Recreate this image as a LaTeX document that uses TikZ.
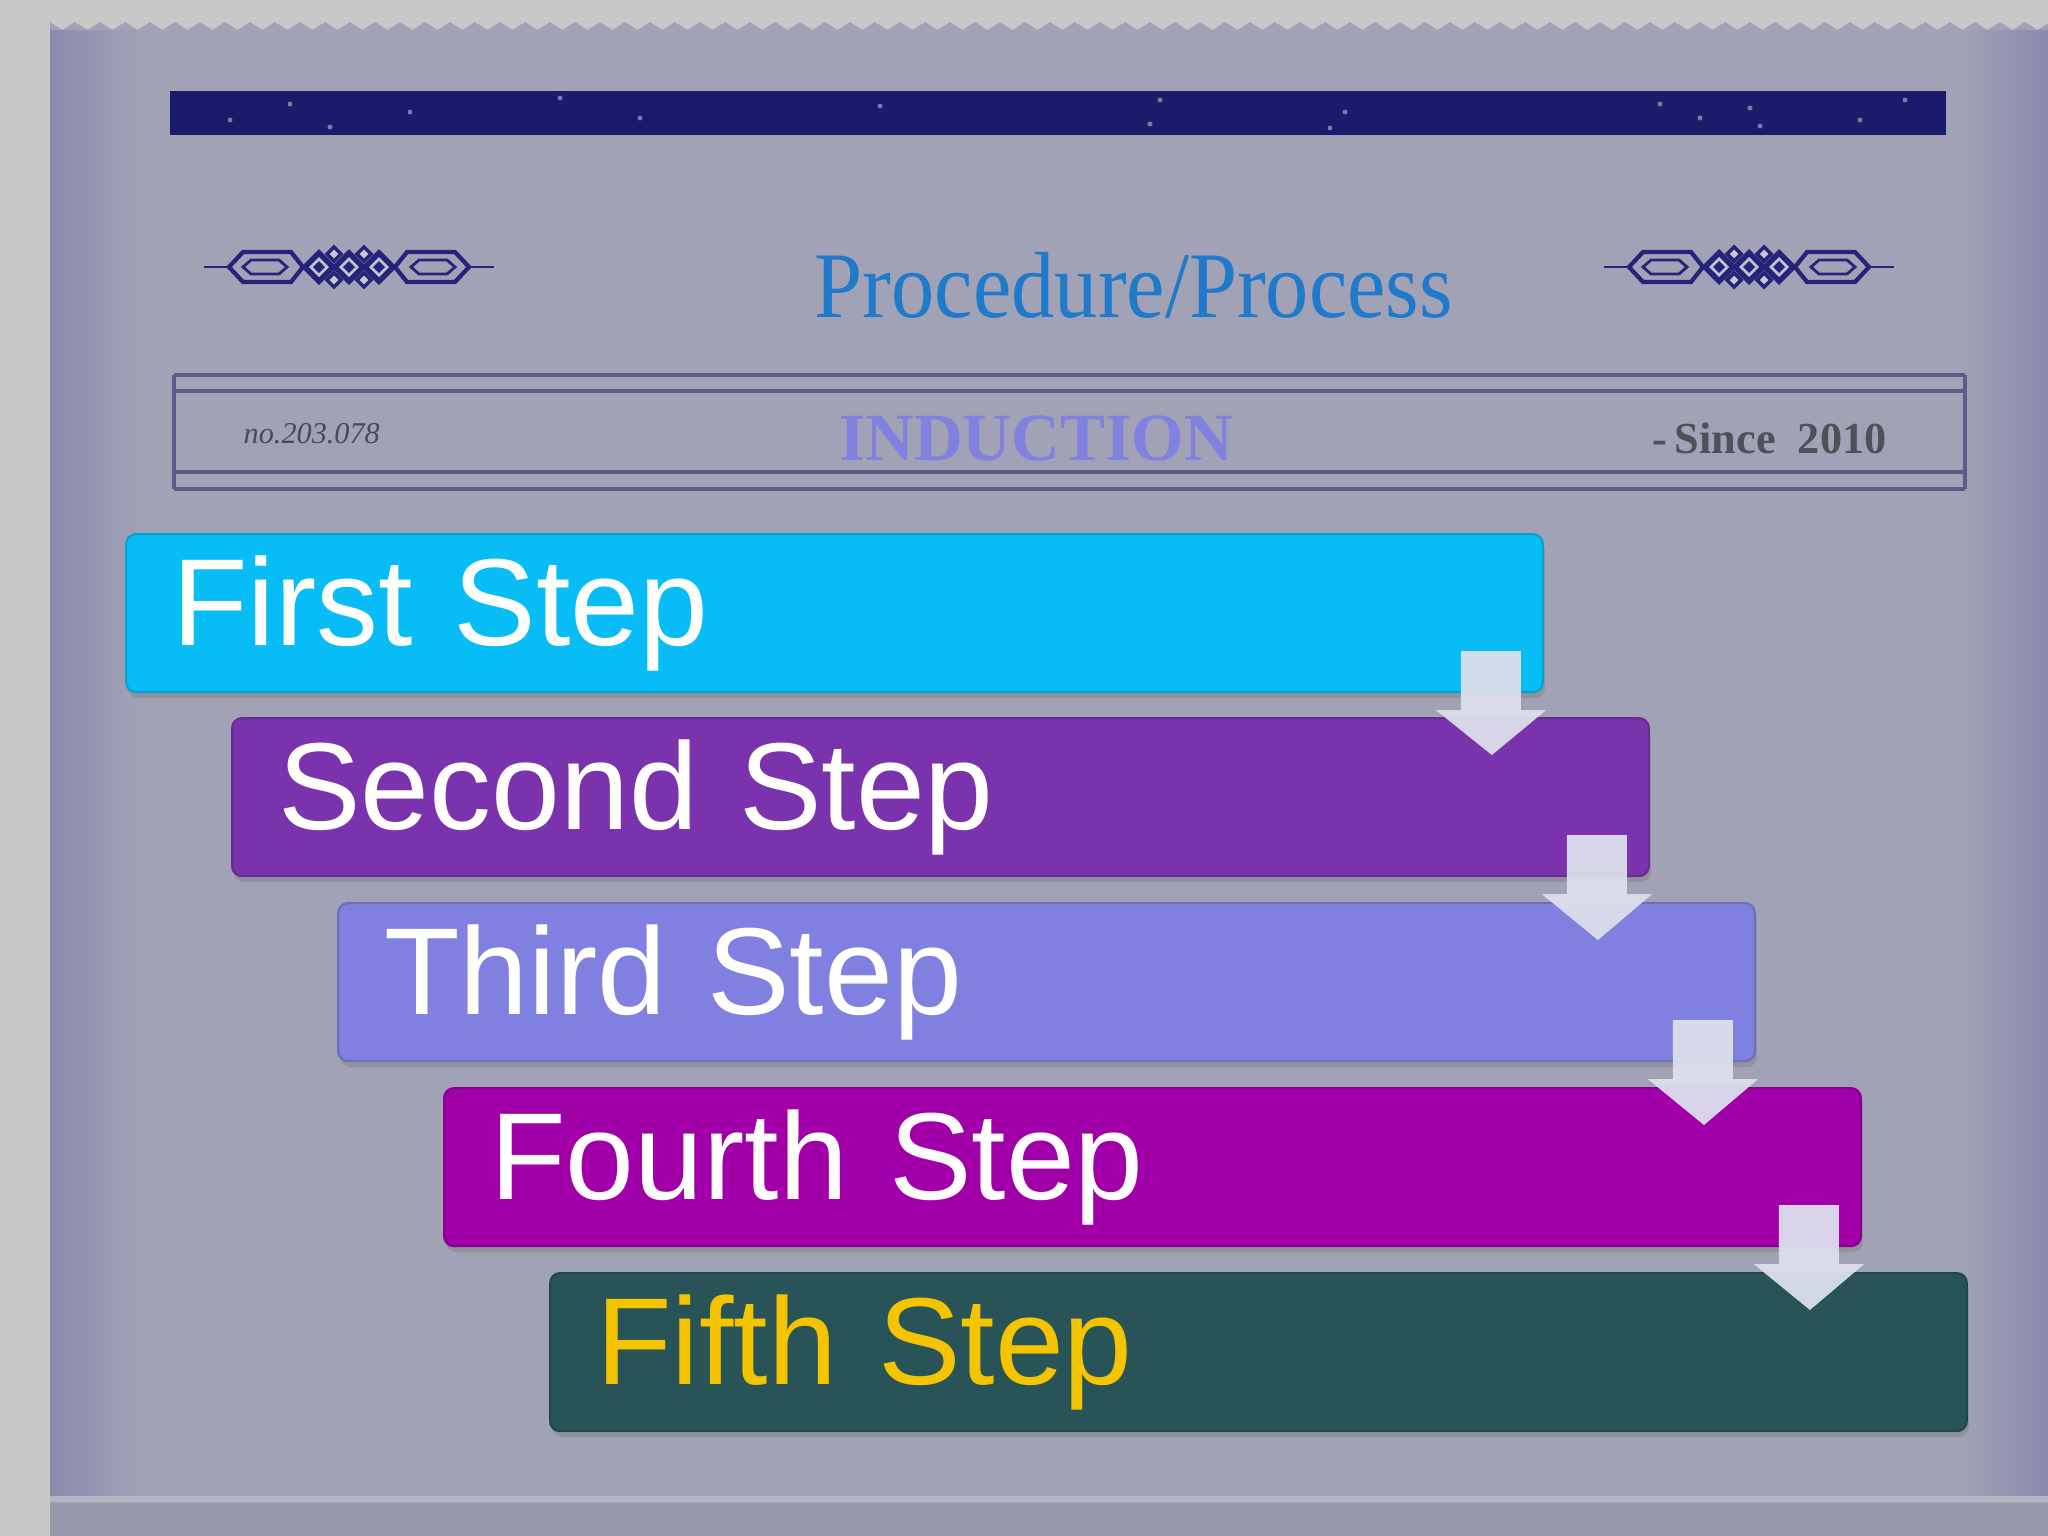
\documentclass[tikz,border=0pt]{standalone}
\usepackage{fontspec}
\setmainfont{Liberation Serif}
\newfontfamily\stepfont{Liberation Sans}
\newfontfamily\titlefont[FakeStretch=0.92]{Liberation Serif}
\usetikzlibrary{calc,shadows}

\definecolor{backgray}{HTML}{C8C8C8}
\definecolor{paper}{HTML}{A2A2B6}
\definecolor{grunge}{HTML}{8A8AAE}
\definecolor{navyband}{HTML}{1B1B6B}
\definecolor{ornblue}{HTML}{25237A}
\definecolor{titleblue}{HTML}{1F7ACB}
\definecolor{frameline}{HTML}{5C5C8C}
\definecolor{indblue}{HTML}{8181E0}
\definecolor{sincegray}{HTML}{505058}
\definecolor{nogray}{HTML}{484860}
\definecolor{stepone}{HTML}{08BCF5}
\definecolor{steptwo}{HTML}{7A33AC}
\definecolor{stepthree}{HTML}{8080E0}
\definecolor{stepfour}{HTML}{A100A8}
\definecolor{stepfive}{HTML}{285458}
\definecolor{fifthtext}{HTML}{F5C400}
\definecolor{arrowfill}{HTML}{DCDFEC}

\tikzset{
  stepbox/.style={fill=#1, draw=#1!85!black, line width=0.6pt, rounded corners=0.1cm,
    minimum width=14.16cm, minimum height=1.58cm, anchor=north west,
    text width=13.24cm, inner xsep=0.46cm, align=left, text=white,
    font=\stepfont\fontsize{35.2}{40}\selectfont,
    drop shadow={shadow xshift=0.02cm, shadow yshift=-0.06cm, opacity=0.45}},
  arrowbody/.style={fill=arrowfill, opacity=0.95},
  frame/.style={draw=frameline, line width=0.9pt},
  headtext/.style={inner sep=0pt},
}

% freccia tra due passi
\newcommand{\steparrow}[2]{%
  \fill[arrowbody] ($(#1.south east)+(-83,-42)$) -- ($(#1.south east)+(-23,-42)$)
    -- ($(#1.south east)+(-23,17)$) -- ($(#1.south east)+(2,17)$)
    -- ($(#2.north east)+(-158,38)$) -- ($(#1.south east)+(-108,17)$)
    -- ($(#1.south east)+(-83,17)$) -- cycle;}

% ornamento del titolo
\newcommand{\ornament}[1]{%
  \begin{scope}[shift={#1}]
    \draw[ornblue, line width=0.8pt] (-145,0) -- (-118,0) (118,0) -- (145,0);
    \foreach \s in {-1,1} {
      \draw[ornblue, line width=1.2pt] ({\s*46},0) -- ({\s*58},-15) -- ({\s*106},-15) -- ({\s*120},0) -- ({\s*106},15) -- ({\s*58},15) -- cycle;
      \draw[ornblue, line width=0.8pt] ({\s*62},0) -- ({\s*70},-7) -- ({\s*98},-7) -- ({\s*106},0) -- ({\s*98},7) -- ({\s*70},7) -- cycle;
    }
    \foreach \x in {-30,0,30} {
      \fill[ornblue] (\x-18,0) -- (\x,-18) -- (\x+18,0) -- (\x,18) -- cycle;
      \fill[paper!65!white] (\x-10,0) -- (\x,-10) -- (\x+10,0) -- (\x,10) -- cycle;
      \fill[ornblue] (\x-6,0) -- (\x,-6) -- (\x+6,0) -- (\x,6) -- cycle;
    }
    \foreach \x in {-15,15} \foreach \y in {-13,13} {
      \filldraw[fill=paper!60!white, draw=ornblue, line width=1pt] (\x-7,\y) -- (\x,\y-7) -- (\x+7,\y) -- (\x,\y+7) -- cycle;
    }
  \end{scope}}

\begin{document}
\begin{tikzpicture}[x=0.01cm, y=-0.01cm]
  \useasboundingbox (0,0) rectangle (2048,1536);
  \fill[backgray] (0,0) rectangle (2048,1536);
  % foglio con bordo seghettato
  \fill[paper] (50,1536) -- (50,22) \foreach \i in {0,...,79} { -- ({62.5+25*\i},30) -- ({75+25*\i},22) } -- (2048,22) -- (2048,1536) -- cycle;
  \shade[left color=grunge, right color=paper] (50,30) rectangle (140,1495);
  \shade[left color=paper, right color=grunge] (1960,30) rectangle (2048,1495);
  \fill[paper!94!black] (50,1503) rectangle (2048,1536);
  \draw[paper!80!white, line width=1.5pt] (50,1499) -- (2048,1499);

  % banda scura in alto
  \fill[navyband] (170,91) rectangle (1946,135);
  \foreach \x/\y in {230/120,290/104,330/127,410/112,560/98,640/118,880/106,1150/124,1160/100,1330/128,1345/112,1660/104,1700/118,1750/108,1760/126,1860/120,1905/100}
    \fill[paper, opacity=0.7] (\x,\y) circle (2.5);

  % titolo
  \ornament{(349,267)}
  \ornament{(1749,267)}
  \node[font=\titlefont\fontsize{26.7}{30}\selectfont, text=titleblue, anchor=base] (title) at (1134,317) {Procedure/Process};

  % cornice
  \draw[frame] (174,375) -- (1965,375) (174,391) -- (1965,391) (174,472) -- (1965,472) (174,489) -- (1965,489);
  \draw[frame] (174,375) -- (174,489) (1965,375) -- (1965,489);
  \node[headtext, font=\itshape\fontsize{8.6}{10}\selectfont, text=nogray, anchor=base west] (serial) at (243,443) {no.203.078};
  \node[headtext, font=\bfseries\fontsize{19.2}{22}\selectfont, text=indblue, anchor=base] (induction) at (1036,460) {INDUCTION};
  \node[headtext, font=\bfseries\fontsize{12.6}{15}\selectfont, text=sincegray, anchor=base west] (since) at (1652,453) {-\,Since~~2010};

  % passi
  \node[stepbox=stepone] (first) at (125,533) {First Step};
  \node[stepbox=steptwo] (second) at (231,717) {Second Step};
  \node[stepbox=stepthree] (third) at (337,902) {Third Step};
  \node[stepbox=stepfour] (fourth) at (443,1087) {Fourth Step};
  \node[stepbox=stepfive, text=fifthtext] (fifth) at (549,1272) {Fifth Step};

  \steparrow{first}{second}
  \steparrow{second}{third}
  \steparrow{third}{fourth}
  \steparrow{fourth}{fifth}
\end{tikzpicture}
\end{document}
